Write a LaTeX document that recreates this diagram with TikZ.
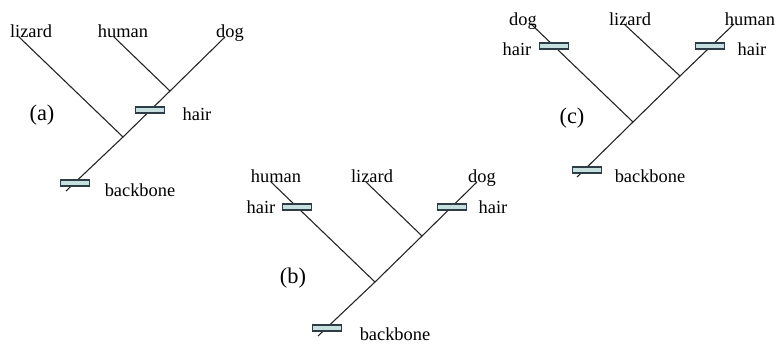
\documentclass[tikz,border=0pt]{standalone}
\usepackage{fontspec}
\setmainfont{Liberation Serif}
\usepackage{tikz}
\usetikzlibrary{positioning}
\definecolor{BarFill}{HTML}{C6E0E0}
\definecolor{BarEdge}{HTML}{2E3D45}

\tikzset{
  branch/.style={line width=0.55pt, draw=black!85},
  bar/.style={draw=BarEdge, line width=0.6pt, fill=BarFill, rectangle,
    minimum width=14.5pt, minimum height=3pt, inner sep=0pt},
  lbl/.style={anchor=base, inner sep=0pt, font=\fontsize{9.2}{11}\selectfont},
  treename/.style={lbl, font=\fontsize{11.2}{13}\selectfont},
}

\begin{document}
\begin{tikzpicture}[x=0.5pt,y=-0.5pt]
    \useasboundingbox (0,0) rectangle (777,343);

    % tree (a)
    \begin{scope}[shift={(123,137)}]
        \coordinate (aRoot) at (0,0);
        \coordinate (aJoin) at (47,-46);
        \coordinate (aBot) at (-57,54);
        \coordinate (aTipL) at (-104,-100);
        \coordinate (aTipM) at (-9,-100);
        \coordinate (aTipR) at (102,-100);
        \draw[branch] (aTipL) -- (aRoot);
        \draw[branch] (aBot) -- (aRoot) -- (aJoin) -- (aTipR);
        \draw[branch] (aTipM) -- (aJoin);
        \node[bar] (aHairBar) at (27,-27) {};
        \node[bar] (aBackBar) at (-48,46) {};
        \node[lbl] (aLizard) at (-92,-100) {lizard};
        \node[lbl] (aHuman) at (0,-100) {human};
        \node[lbl] (aDog) at (107,-100) {dog};
        \node[lbl] (aHair) at (74,-17) {hair};
        \node[treename] (aName) at (-81,-17) {(a)};
        \node[lbl] (aBackbone) at (17,59) {backbone};
    \end{scope}

    % tree (b)
    \begin{scope}[shift={(375,282)}]
        \coordinate (bRoot) at (0,0);
        \coordinate (bJoin) at (47,-46);
        \coordinate (bBot) at (-57,54);
        \coordinate (bTipL) at (-104,-100);
        \coordinate (bTipM) at (-9,-100);
        \coordinate (bTipR) at (102,-100);
        \draw[branch] (bTipL) -- (bRoot);
        \draw[branch] (bBot) -- (bRoot) -- (bJoin) -- (bTipR);
        \draw[branch] (bTipM) -- (bJoin);
        \node[bar] (bHairBarL) at (-78,-75) {};
        \node[bar] (bHairBarR) at (77,-75) {};
        \node[bar] (bBackBar) at (-48,46) {};
        \node[lbl] (bHuman) at (-99,-100) {human};
        \node[lbl] (bLizard) at (-3,-100) {lizard};
        \node[lbl] (bDog) at (107,-100) {dog};
        \node[lbl] (bHairL) at (-114,-69) {hair};
        \node[lbl] (bHairR) at (118,-69) {hair};
        \node[treename] (bName) at (-82,1) {(b)};
        \node[lbl] (bBackbone) at (20,58) {backbone};
    \end{scope}

    % tree (c)
    \begin{scope}[shift={(633,122)}]
        \coordinate (cRoot) at (0,0);
        \coordinate (cJoin) at (47,-46);
        \coordinate (cBot) at (-56,55);
        \coordinate (cTipL) at (-102,-98);
        \coordinate (cTipM) at (-9,-98);
        \coordinate (cTipR) at (101,-98);
        \draw[branch] (cTipL) -- (cRoot);
        \draw[branch] (cBot) -- (cRoot) -- (cJoin) -- (cTipR);
        \draw[branch] (cTipM) -- (cJoin);
        \node[bar] (cHairBarL) at (-79,-76) {};
        \node[bar] (cHairBarR) at (77,-76) {};
        \node[bar] (cBackBar) at (-46,48) {};
        \node[lbl] (cDog) at (-110,-97) {dog};
        \node[lbl] (cLizard) at (-3,-97) {lizard};
        \node[lbl] (cHuman) at (117,-97) {human};
        \node[lbl] (cHairL) at (-116,-67) {hair};
        \node[lbl] (cHairR) at (119,-67) {hair};
        \node[treename] (cName) at (-61,1) {(c)};
        \node[lbl] (cBackbone) at (17,60) {backbone};
    \end{scope}
\end{tikzpicture}
\end{document}
